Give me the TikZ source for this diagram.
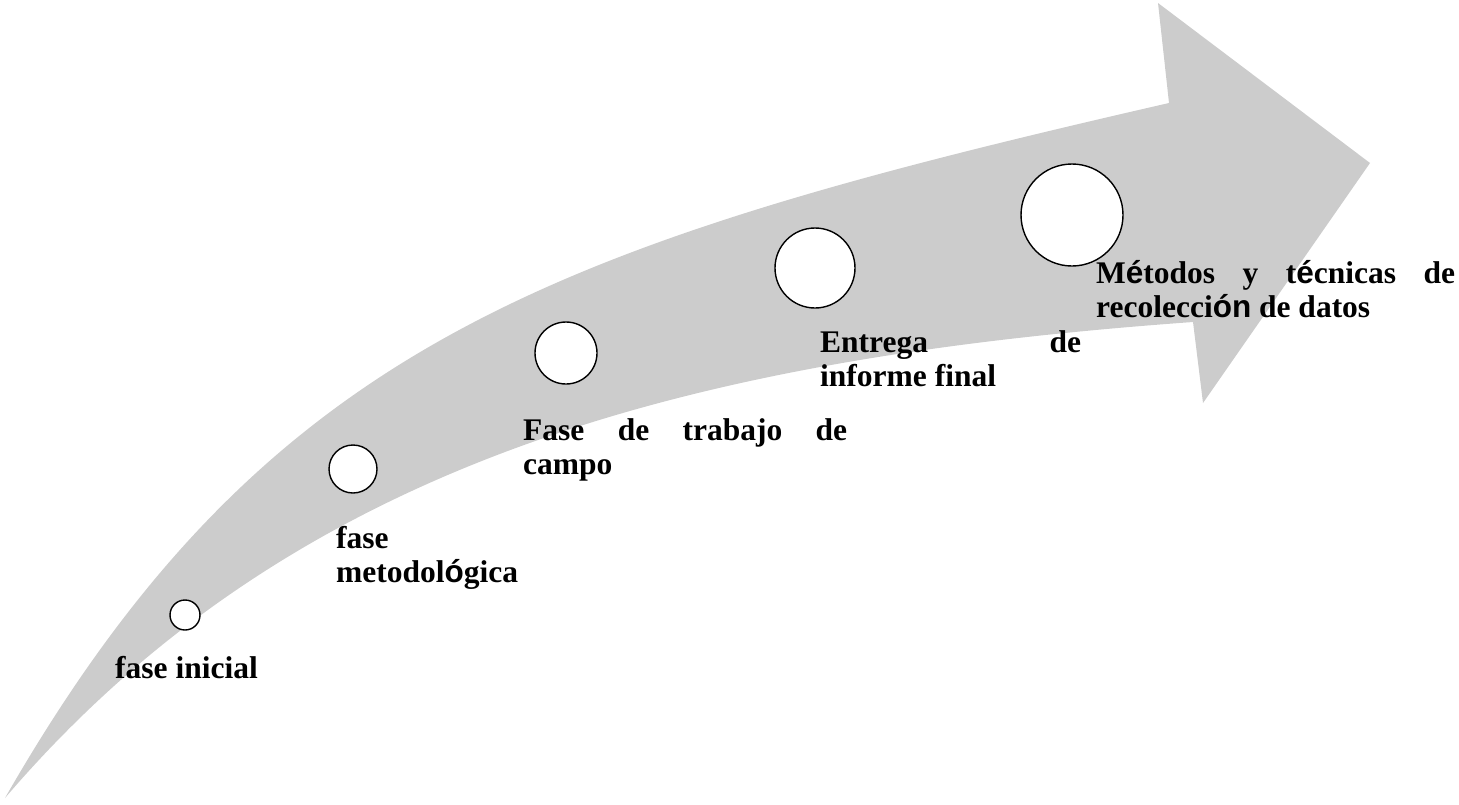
\documentclass[tikz,border=0pt]{standalone}
\usepackage{fontspec}
\setmainfont{Liberation Serif}
\newfontfamily\sa{Liberation Sans}
\definecolor{arrowgray}{RGB}{204,204,204}
\begin{document}
\begin{tikzpicture}[x=1pt,y=-1pt,
  stage/.style={circle,draw=black,fill=white,line width=1.4pt,inner sep=0pt},
  lbl/.style={anchor=base west,inner sep=0pt,font=\fontsize{31.5}{34}\selectfont\bfseries}]
\useasboundingbox (0,0) rectangle (1459,804);
% curved arrow
\fill[arrowgray] (5,798) .. controls (265,345) and (549,245) .. (1169,103)
  -- (1158,3) -- (1370,163) -- (1203,403) -- (1193,322)
  .. controls (693,358) and (295,459) .. (5,798) -- cycle;
% stage circles
\node[stage,minimum size=30pt] (c1) at (185,615) {};
\node[stage,minimum size=48pt] (c2) at (353,469) {};
\node[stage,minimum size=62pt] (c3) at (566,353) {};
\node[stage,minimum size=80pt] (c4) at (815,268) {};
\node[stage,minimum size=102pt] (c5) at (1072,215) {};
% labels
\node[lbl] (t1) at (115,678) {fase inicial};
\node[lbl] (t2) at (336,548) {\parbox[t]{200pt}{fase\\metodol{\sa ó}gica}};
\node[lbl] (t3) at (523,440) {\parbox[t]{324pt}{Fase\hfill de\hfill trabajo\hfill de\\campo}};
\node[lbl] (t4) at (820,352) {\parbox[t]{261pt}{Entrega\hfill de\\informe final}};
\node[lbl] (t5) at (1096,283) {\parbox[t]{359pt}{M{\sa é}todos\hfill y\hfill t{\sa é}cnicas\hfill de\\recolecci{\sa ón} de datos}};
\end{tikzpicture}
\end{document}
